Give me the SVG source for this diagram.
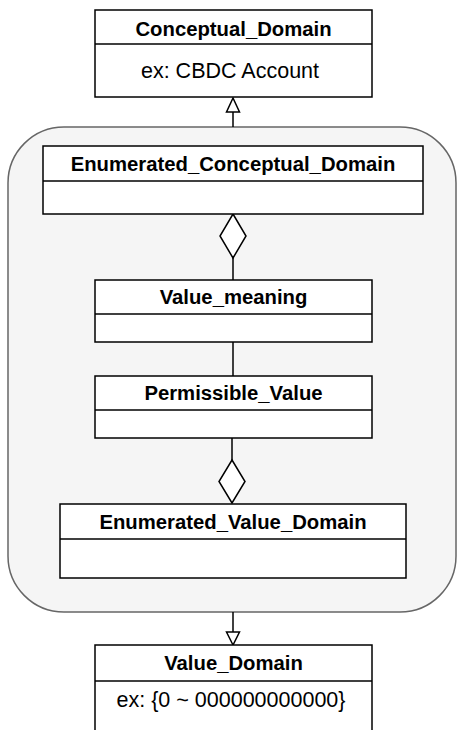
<svg xmlns="http://www.w3.org/2000/svg" width="457" height="730" viewBox="0 0 457 730">
<style>
.box{fill:#ffffff;stroke:#000000;stroke-width:1.5}
.div{stroke:#000000;stroke-width:1.5}
.title{font-family:"Liberation Sans",Arial,sans-serif;font-weight:bold;font-size:20.3px;fill:#000;text-anchor:middle}
.attr{font-family:"Liberation Sans",Arial,sans-serif;font-size:21.5px;fill:#000;text-anchor:middle}
.edge{stroke:#000000;stroke-width:1.5;fill:none}
.head{fill:#ffffff;stroke:#000000;stroke-width:1.5}
</style>
<rect width="457" height="730" fill="#ffffff"/>
<g id="container">
<rect x="8" y="127" width="448" height="485" rx="56" ry="56" fill="#f5f5f5" stroke="#666666" stroke-width="1.5"/>
</g>
<g id="connectors">
<line class="edge" x1="233" y1="127" x2="233" y2="112"/>
<polygon class="head" points="233,98 226.5,112 239.5,112"/>
<polygon class="head" points="233,214 246,236 233,258 220,236"/>
<line class="edge" x1="233" y1="258" x2="233" y2="280"/>
<line class="edge" x1="233" y1="342" x2="233" y2="376"/>
<line class="edge" x1="232" y1="438" x2="232" y2="460"/>
<polygon class="head" points="232,460 245,481.5 232,503 219,481.5"/>
<line class="edge" x1="233" y1="612" x2="233" y2="632"/>
<polygon class="head" points="233,645 226.5,632 239.5,632"/>
</g>
<g id="conceptual_domain">
<rect class="box" x="95" y="10" width="277" height="87"/>
<line class="div" x1="95" y1="44" x2="372" y2="44"/>
<text class="title" x="233.5" y="36">Conceptual_Domain</text>
<text class="attr" x="230" y="78">ex: CBDC Account</text>
</g>
<g id="enumerated_conceptual_domain">
<rect class="box" x="43" y="146" width="380" height="68"/>
<line class="div" x1="43" y1="181" x2="423" y2="181"/>
<text class="title" x="233" y="171">Enumerated_Conceptual_Domain</text>
</g>
<g id="value_meaning">
<rect class="box" x="95" y="280" width="277" height="62"/>
<line class="div" x1="95" y1="314" x2="372" y2="314"/>
<text class="title" x="233.5" y="304">Value_meaning</text>
</g>
<g id="permissible_value">
<rect class="box" x="95" y="376" width="277" height="62"/>
<line class="div" x1="95" y1="410" x2="372" y2="410"/>
<text class="title" x="233.5" y="400">Permissible_Value</text>
</g>
<g id="enumerated_value_domain">
<rect class="box" x="60" y="504" width="346" height="74"/>
<line class="div" x1="60" y1="539" x2="406" y2="539"/>
<text class="title" x="233" y="529">Enumerated_Value_Domain</text>
</g>
<g id="value_domain">
<rect class="box" x="95" y="645" width="277" height="100"/>
<line class="div" x1="95" y1="681" x2="372" y2="681"/>
<text class="title" x="233.5" y="670">Value_Domain</text>
<text class="attr" x="231" y="707">ex: {0 ~ 000000000000}</text>
</g>
</svg>
